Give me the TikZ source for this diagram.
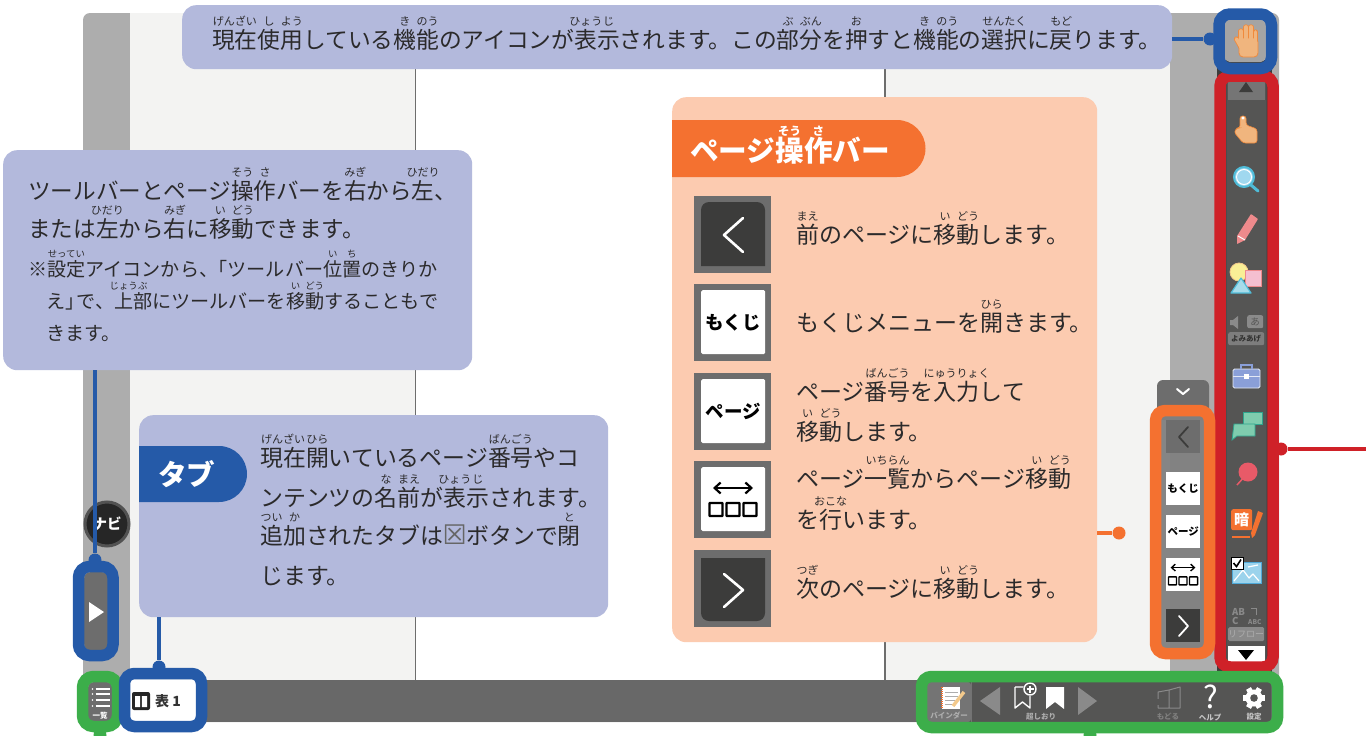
\documentclass[tikz,border=0pt]{standalone}
\usepackage{fontspec}
\setmainfont{Noto Sans CJK JP}
\newfontfamily\symfont{DejaVu Sans}
\usetikzlibrary{arrows.meta}
\definecolor{cBlue}{HTML}{255AA8}
\definecolor{cCall}{HTML}{B3B9DC}
\definecolor{cPanel}{HTML}{FCCBB0}
\definecolor{cOrange}{HTML}{F47130}
\definecolor{cRed}{HTML}{CF2128}
\definecolor{cGreen}{HTML}{3CAE4A}
\definecolor{cInk}{HTML}{2B2A2B}
\definecolor{cBand}{HTML}{ADADAD}
\definecolor{cPage}{HTML}{F3F3F2}
\definecolor{cBar}{HTML}{686868}
\definecolor{cTool}{HTML}{555554}
\definecolor{cDark}{HTML}{3C3C3B}
\definecolor{cBtn}{HTML}{6D6D6D}
\definecolor{cDim}{HTML}{8A8A8A}
\definecolor{F47130c}{HTML}{F08A3C}
\definecolor{F0B57Ec}{HTML}{F0B57E}
\definecolor{A0D8EFc}{HTML}{A0D8EF}
\definecolor{4FBCD8c}{HTML}{4FBCD8}
\definecolor{EE8A8Cc}{HTML}{EE8A8C}
\definecolor{F9EF96c}{HTML}{F9EF96}
\definecolor{F3C98Bc}{HTML}{F3C98B}
\definecolor{F5BFD0c}{HTML}{F5BFD0}
\definecolor{A8DCEAc}{HTML}{A8DCEA}
\definecolor{8A9FD8c}{HTML}{8A9FD8}
\definecolor{7FCCAEc}{HTML}{7FCCAE}
\definecolor{2FA58Ec}{HTML}{2FA58E}
\definecolor{E85A68c}{HTML}{E85A68}
\definecolor{9BD3ECc}{HTML}{9BD3EC}
\definecolor{4FA9D8c}{HTML}{4FA9D8}
\def\rbsize{11}
\def\rbraise{0.98em}
\newcommand\rb[2]{\leavevmode\setbox0\hbox{#1}\rlap{\raisebox{\rbraise}[0pt][0pt]{\makebox[\wd0]{\fontsize{\rbsize}{\rbsize}\selectfont #2}}}\box0 }
\newcommand\linetxt[4]{\node[txt,#1] at (#2,#3) {#4};}
\tikzset{
  txt/.style={anchor=base west,inner sep=0pt,text=cInk,font=\fontsize{22.6}{23}\selectfont},
  toptxt/.style={font=\fontsize{22.75}{23}\selectfont},
  tabtxt/.style={font=\fontsize{22.9}{23}\selectfont},
  paneltxt/.style={font=\fontsize{23}{23}\selectfont},
  smalltxt/.style={font=\fontsize{19.1}{19}\selectfont\def\rbsize{9.4}},
  callout/.style={anchor=north west,fill=cCall,rounded corners=14pt,inner sep=0pt},
  frame/.style={anchor=north west,draw=#1,line width=11.5pt,rounded corners=10pt,inner sep=0pt,outer sep=0pt},
  dotm/.style={circle,fill=#1,minimum size=13pt,inner sep=0pt},
  conn/.style={draw=#1,line width=3.4pt},
  tagl/.style={anchor=west,font=\bfseries\fontsize{28.6}{28}\selectfont,text=white,inner sep=0pt},
  btn/.style={anchor=north west,fill=cBtn,inner sep=0pt,minimum width=77pt,minimum height=77pt},
  whitein/.style={anchor=north west,fill=white,rounded corners=1.5pt,inner sep=0pt,minimum width=64pt,minimum height=64pt},
  keytxt/.style={font=\bfseries\fontsize{#1}{#1}\selectfont,text=black,inner sep=0pt},
  tinyl/.style={font=\bfseries\fontsize{7.5}{8}\selectfont,text=#1,inner sep=0pt},
  sbtn/.style={anchor=north west,inner sep=0pt,minimum width=34pt,minimum height=33pt,fill=#1},
}
\newcommand\threeboxes[3]{% x,y,scale (centre of icon)
 \begin{scope}[shift={(#1,#2)},x=#3pt,y=-#3pt]
  \draw[black,line width=#3*2.2pt,{Straight Barb[length=#3*6pt,width=#3*11pt]}-{Straight Barb[length=#3*6pt,width=#3*11pt]}] (-20,-12) -- (20,-12);
  \foreach \k in {-23.5,-6.5,10.5} \draw[black,line width=#3*2.2pt,rounded corners=.5pt] (\k,3) rectangle ++(13,13);
 \end{scope}}
\begin{document}
\begin{tikzpicture}[x=1pt,y=-1pt]
\useasboundingbox (0,0) rectangle (1366,736);
\fill[white] (0,0) rectangle (1366,736);
% ---- screen
\fill[cBand,rounded corners=7pt] (83,13) rectangle (1279,722);
\fill[cPage] (130,13) rectangle (1170,680);
\fill[white] (416,13) rectangle (885,680);
\draw[cBtn,line width=1.5pt] (415.5,13) -- (415.5,680) (885,13) -- (885,680);
\fill[cBar] (118,680) rectangle (1279,722);
\fill[cDark] (1217,60) rectangle (1272,672);
% ---- navi
\node[circle,fill=black!85,draw=black!68,line width=3pt,minimum size=44pt,inner sep=0pt] (navi) at (107,524) {};
\node[font=\bfseries\fontsize{14.5}{15}\selectfont,text=white,inner sep=0pt] (navitxt) at (107,524) {ナビ};
% ---- slider
\node[anchor=north west,fill=cBtn,rounded corners=6pt,minimum width=24pt,minimum height=78pt,inner sep=0pt] (slider) at (84,572) {};
\fill[white] (89,602) -- (104,612) -- (89,622) -- cycle;
% ---- callouts
\node[callout,minimum width=990pt,minimum height=64pt] (callTop) at (182,5) {};
\node[callout,minimum width=469pt,minimum height=220pt] (callLeft) at (3,150) {};
\node[callout,minimum width=469pt,minimum height=202pt] (callTab) at (139,415) {};
\node[anchor=north west,fill=cPanel,rounded corners=14pt,minimum width=425pt,minimum height=545pt,inner sep=0pt] (panel) at (672,97) {};
% tags
\fill[cOrange,rounded corners=0pt] (672,120) -- (897,120) arc[start angle=-90,end angle=90,x radius=28.5pt,y radius=-28.5pt] -- (672,177) -- cycle;
\fill[cBlue] (139,446) -- (219,446) arc[start angle=-90,end angle=90,x radius=28pt,y radius=-28pt] -- (139,502) -- cycle;
\node[tagl] (tagPage) at (690,151) {\def\rbsize{11.5}\def\rbraise{0.92em}ページ\rb{操}{そう}\rb{作}{さ}バー};
\node[tagl] (tagTab) at (158,474) {タブ};
% ---- top text
\linetxt{toptxt}{212}{48}{\rb{現在}{げんざい}\rb{使}{し}\rb{用}{よう}している\rb{機}{き}\rb{能}{のう}のアイコンが\rb{表}{ひょう}\rb{示}{じ}されます。この\rb{部}{ぶ}\rb{分}{ぶん}を\rb{押}{お}すと\rb{機}{き}\rb{能}{のう}の\rb{選択}{せんたく}に\rb{戻}{もど}ります。}
% ---- left text
\linetxt{}{28}{199}{ツールバーとページ\rb{操}{そう}\rb{作}{さ}バーを\rb{右}{みぎ}から\rb{左}{ひだり}、}
\linetxt{}{28}{237}{または\rb{左}{ひだり}から\rb{右}{みぎ}に\rb{移}{い}\rb{動}{どう}できます。}
\linetxt{smalltxt}{28}{276}{※\rb{設定}{せってい}アイコンから、\hspace{-.5em}「ツールバー\rb{位}{い}\rb{置}{ち}のきりか}
\linetxt{smalltxt}{46}{308}{え」\hspace{-.4em}で、\rb{上}{じょう}\rb{部}{ぶ}にツールバーを\rb{移}{い}\rb{動}{どう}することもで}
\linetxt{smalltxt}{46}{340}{きます。}
% ---- tab text
\linetxt{tabtxt}{260}{466}{\rb{現在}{げんざい}\rb{開}{ひら}いているページ\rb{番号}{ばんごう}やコ}
\linetxt{tabtxt}{260}{506}{ンテンツの\rb{名}{な}\rb{前}{まえ}が\rb{表}{ひょう}\rb{示}{じ}されます。}
\linetxt{tabtxt}{260}{544}{\rb{追}{つい}\rb{加}{か}されたタブは\makebox[1em]{\fontsize{27}{27}\textcolor{black!60}{\symfont ☒}}ボタンで\rb{閉}{と}}
\linetxt{tabtxt}{260}{584}{じます。}
% ---- panel buttons
\node[btn] (b1) at (694,196) {};
\fill[cDark] (701,266) -- (701,212) [rounded corners=8pt] -- (701,202) -- (765,202) [sharp corners] -- (765,266) -- cycle;
\draw[white,line width=2.6pt,line cap=round,line join=round] (743,218) -- (724,235) -- (743,252);
\node[btn] (b2) at (694,284) {};
\node[whitein] (k2) at (701,290) {};
\node[keytxt=18.5] at (k2) {もくじ};
\node[btn] (b3) at (694,373) {};
\node[whitein] (k3) at (701,379) {};
\node[keytxt=18.5] at (k3) {ページ};
\node[btn] (b4) at (694,461) {};
\node[whitein] (k4) at (701,467) {};
\threeboxes{733}{500}{1}
\node[btn] (b5) at (694,550) {};
\fill[cDark] (701,558) -- (765,558) -- (765,610) [rounded corners=8pt] -- (765,621) -- (701,621) [sharp corners] -- (701,610) -- cycle;
\draw[white,line width=2.6pt,line cap=round,line join=round] (724,574) -- (743,590) -- (724,607);
% ---- panel text
\linetxt{paneltxt}{796}{243}{\rb{前}{まえ}のページに\rb{移}{い}\rb{動}{どう}します。}
\linetxt{paneltxt}{796}{331}{もくじメニューを\rb{開}{ひら}きます。}
\linetxt{paneltxt}{796}{400}{ページ\rb{番号}{ばんごう}を\rb{入力}{にゅうりょく}して}
\linetxt{paneltxt}{796}{440}{\rb{移}{い}\rb{動}{どう}します。}
\linetxt{paneltxt}{796}{487}{ページ\rb{一覧}{いちらん}からページ\rb{移}{い}\rb{動}{どう}}
\linetxt{paneltxt}{796}{528}{を\rb{行}{おこな}います。}
\linetxt{paneltxt}{796}{597}{\rb{次}{つぎ}のページに\rb{移}{い}\rb{動}{どう}します。}
% ---- page bar
\fill[cBtn,rounded corners=6pt] (1157,380) rectangle (1209,420);
\draw[white,line width=2pt,line cap=round,line join=round] (1177,389) -- (1183,394) -- (1189,389);
\fill[black!50,opacity=.95] (1161,415) rectangle (1204,648);
\node[sbtn=cBtn] (s1) at (1166,420) {};
\draw[cDark,line width=1.8pt,line cap=round,line join=round] (1188,427) -- (1179,437) -- (1188,447);
\node[sbtn=white] (s2) at (1166,472) {};
\node[keytxt=10.5] at (s2) {もくじ};
\node[sbtn=white] (s3) at (1166,515) {};
\node[keytxt=10.5] at (s3) {ページ};
\node[sbtn=white] (s4) at (1166,558) {};
\threeboxes{1183}{575}{.62}
\node[sbtn=cDark] (s5) at (1166,609) {};
\draw[white,line width=1.8pt,line cap=round,line join=round] (1179,616) -- (1188,626) -- (1179,636);
% ---- toolbar
\fill[cTool] (1226,80) rectangle (1267,662);
\draw[black!70,line width=1pt] (1226.5,80) -- (1226.5,662) (1266.5,80) -- (1266.5,662);
\fill[cDim!85!black] (1228,80) rectangle (1265,100);
\fill[cDark] (1239,92) -- (1246,82) -- (1253,92) -- cycle;
\fill[white] (1228,646) rectangle (1265,662);
\fill[black] (1238,650) -- (1254,650) -- (1246,660) -- cycle;
% hand (current)
\node[anchor=north west,fill=cBand!95!black,rounded corners=5pt,minimum width=40pt,minimum height=42pt,inner sep=0pt] (curBtn) at (1225,20) {};
\begin{scope}[every path/.style={line cap=round}]
\foreach \xa/\ya in {1241/31,1246/27,1251/27,1255.5/32}{
  \draw[F47130c,line width=5.2pt] (\xa,\ya) -- (\xa,42);
  \draw[F0B57Ec,line width=3.6pt] (\xa,\ya) -- (\xa,42);}
\draw[F47130c,line width=5.2pt] (1236.5,39) -- (1241,47);
\fill[F0B57Ec,draw=F47130c,line width=.8pt,rounded corners=4pt] (1239,38) rectangle (1258,57);
\draw[F0B57Ec,line width=3.6pt] (1236.5,39) -- (1241,47);
\foreach \xa/\ya in {1241/34,1246/34,1251/34,1255.5/34}{\draw[F0B57Ec,line width=3.6pt] (\xa,\ya) -- (\xa,42);}
\end{scope}
% pointer hand
\fill[F0B57Ec,draw=F47130c,line width=.6pt,rounded corners=2.5pt] (1240,128) -- (1240,116) -- (1246,116) -- (1246,125) -- (1257,129) -- (1257,143) -- (1243,143) -- (1234,132) -- (1237,128) -- cycle;
\fill[white] (1243,118) circle[radius=1.6pt];
% magnifier
\draw[4FBCD8c,line width=3pt,line cap=round] (1251,185) -- (1258,191);
\draw[fill=A0D8EFc,draw=4FBCD8c,line width=2pt] (1244,177) circle[radius=10pt];
\draw[white,line width=1pt] (1244,177) circle[radius=7.5pt];
% pencil
\fill[EE8A8Cc,rounded corners=.5pt] (1251,214) -- (1258,219) -- (1245,240) -- (1237,244) -- (1237,236) -- cycle;
\draw[white,line width=1pt] (1238,236) -- (1245,240);
% shapes
\fill[F9EF96c,draw=F3C98Bc,line width=.8pt] (1239,272) circle[radius=9pt];
\fill[F5BFD0c,draw=EE8A8Cc,line width=1pt] (1245,270) rectangle (1261,286);
\fill[A8DCEAc,draw=4FBCD8c,line width=1.2pt,line join=round] (1241,278) -- (1251,293) -- (1231,293) -- cycle;
% speech
\fill[cDim] (1230,320) rectangle (1233,325) (1233,320) -- (1238,316) -- (1238,329) -- (1233,325) -- cycle;
\node[anchor=north west,fill=cDim,rounded corners=2pt,minimum width=16pt,minimum height=13pt,inner sep=0pt,font=\fontsize{9.5}{10}\selectfont,text=cTool] (aBox) at (1247,315) {あ};
\node[anchor=north west,fill=cDim!75!cTool,rounded corners=2pt,minimum width=36pt,minimum height=13pt,tinyl=cTool!60!black] (readTag) at (1228,332) {よみあげ};
% toolbox
\fill[8A9FD8c,draw=white!80!8A9FD8c,line width=.8pt,rounded corners=1.5pt] (1233,369) rectangle (1260,388);
\draw[8A9FD8c,line width=1.6pt] (1241,369) -- (1241,365) -- (1252,365) -- (1252,369);
\draw[white!75!8A9FD8c,line width=.8pt] (1233,376) -- (1260,376);
\fill[white] (1244,374) rectangle (1249,379);
% chat
\fill[7FCCAEc,draw=2FA58Ec,line width=.8pt] (1243,412) -- (1262,412) -- (1262,424) -- (1243,424) -- cycle;
\fill[7FCCAEc,draw=2FA58Ec,line width=.8pt] (1234,424) -- (1255,424) -- (1255,436) -- (1237,436) -- (1232,440) -- cycle;
% pin
\draw[E85A68c,line width=1.5pt] (1237,485) -- (1245,476);
\fill[E85A68c] (1248,472) circle[radius=9.5pt];
% memorize
\node[anchor=north west,fill=cOrange,rounded corners=2pt,minimum width=21pt,minimum height=21pt,inner sep=0pt,font=\bfseries\fontsize{15}{15}\selectfont,text=white] (memBox) at (1231,509) {暗};
\fill[cOrange] (1258,511) -- (1263,513) -- (1255,535) -- (1252,538) -- (1251,533) -- cycle;
\draw[cOrange,line width=2pt] (1232,537) -- (1250,537);
% check picture
\fill[9BD3ECc,draw=4FA9D8c,line width=1pt] (1232,562) rectangle (1261,583);
\draw[white,line width=1.2pt,line join=round] (1234,581) -- (1243,570) -- (1249,578) -- (1253,574) -- (1259,581);
\draw[white,line width=1.2pt] (1248,567) -- (1258,565);
\fill[white,draw=black,line width=.8pt] (1231,557) rectangle (1243,569);
\draw[black,line width=1.6pt] (1233.5,563) -- (1236.5,566.5) -- (1241,559.5);
% reflow
\node[anchor=west,inner sep=0pt,font=\bfseries\fontsize{9.5}{10}\selectfont,text=cDim] (rfA) at (1232,612) {AB};
\node[anchor=west,inner sep=0pt,font=\bfseries\fontsize{9.5}{10}\selectfont,text=cDim] (rfB) at (1232,621) {C};
\node[anchor=west,inner sep=0pt,font=\bfseries\fontsize{6.5}{7}\selectfont,text=cDim] (rfC) at (1248,622) {ABC};
\draw[cDim,line width=.8pt] (1251,608) -- (1256,608) -- (1256,615);
\node[anchor=north west,fill=cDim,rounded corners=1.5pt,minimum width=36pt,minimum height=14pt,inner sep=0pt,font=\fontsize{9}{9}\selectfont,text=cBand] (rfTag) at (1228,627) {リフロー};
% ---- bottom bar
\fill[cTool,rounded corners=3pt] (927,682) rectangle (1271,722);
\fill[cBtn!95!white,rounded corners=3pt] (927,682) rectangle (971,722);
\draw[black!55,line width=.8pt] (971,682) -- (971,722);
\fill[white] (942,687) rectangle (960,709);
\draw[cOrange,line width=1.6pt,dash pattern=on 1pt off 1pt] (942,687) -- (942,709);
\draw[cBand,line width=1pt] (945,692) -- (958,692) (945,696) -- (958,696) (945,700) -- (955,700) (945,704) -- (953,704);
\draw[F3C98Bc,line width=3.4pt] (964,692) -- (953,706);
\node[tinyl=cBand] (binder) at (949,716) {バインダー};
\fill[cDim] (1000,687) -- (1000,715) -- (980,701) -- cycle;
\fill[cDim] (1078,687) -- (1078,715) -- (1097,701) -- cycle;
\draw[white,line width=1.4pt,line join=round] (1015,687) -- (1026,687) (1030,695) -- (1030,708) -- (1022.5,702) -- (1015,708) -- (1015,687);
\fill[cTool] (1030,689) circle[radius=7pt];
\draw[white,line width=1.4pt] (1030,689) circle[radius=6pt];
\draw[white,line width=1.3pt] (1026.5,689) -- (1033.5,689) (1030,685.5) -- (1030,692.5);
\fill[white] (1046,687) -- (1064,687) -- (1064,709) -- (1055,702) -- (1046,709) -- cycle;
\node[tinyl=cBand] (shiori) at (1041,717) {超しおり};
\draw[cDim,line width=1pt,line join=round] (1169,690) -- (1158,692) -- (1158,708) -- (1169,708) -- (1180,708) -- (1180,687) -- (1169,690) -- (1169,708);
\fill[cTool] (1156,699) rectangle (1162,705);
\node[tinyl=cDim!80!cTool] (back) at (1168,717) {もどる};
\node[inner sep=0pt,font=\fontsize{31}{31}\selectfont,text=white] (helpq) at (1210.5,697) {?};
\node[tinyl=cBand!70!white] (help) at (1210,717) {ヘルプ};
\foreach \a in {0,60,...,300}{\draw[white,line width=5.5pt] (1254,698) -- +(\a:11);}
\fill[white] (1254,698) circle[radius=8.5pt];
\fill[cTool] (1254,698) circle[radius=3.8pt];
\node[tinyl=cBand!70!white] (setting) at (1254,717) {設定};
% list button
\node[anchor=north west,fill=cBtn,rounded corners=5pt,minimum width=24pt,minimum height=40pt,inner sep=0pt] (listBtn) at (88,682) {};
\foreach \yy in {689,694,700,706}{\draw[white,line width=1.2pt] (95.5,\yy) -- (109.5,\yy); \fill[white] (92.5,\yy) circle[radius=.9pt];}
\node[tinyl=white] (listLab) at (100,716) {一覧};
% tab
\node[anchor=north west,fill=white,minimum width=66pt,minimum height=41pt,inner sep=0pt] (tabBtn) at (130,680) {};
\fill[black!85,rounded corners=2pt] (132,692) rectangle (150,710);
\fill[white] (135,696) rectangle (140.2,707) (141.8,696) rectangle (147,707);
\node[anchor=base west,inner sep=0pt,font=\bfseries\fontsize{14}{14}\selectfont,text=black!80] (tabLab) at (155,706) {表 1};
% ---- frames (centre line of the thick strokes)
\node[frame=cRed,minimum width=53pt,minimum height=591pt] (frRed) at (1220,76) {};
\node[frame=cBlue,rounded corners=11pt,minimum width=52.5pt,minimum height=54.5pt] (frHand) at (1219,14) {};
\node[frame=cOrange,minimum width=54pt,minimum height=243pt] (frPage) at (1155.5,410.5) {};
\node[frame=cGreen,minimum width=356pt,minimum height=51pt] (frTools) at (921.5,676.5) {};
\node[frame=cGreen,rounded corners=11pt,minimum width=35pt,minimum height=50pt] (frList) at (82.5,676.5) {};
\node[frame=cBlue,minimum width=77pt,minimum height=53pt] (frTab) at (124.5,673.5) {};
\node[frame=cBlue,rounded corners=11pt,minimum width=34.5pt,minimum height=89pt] (frSlider) at (78.5,566.5) {};
% ---- connectors
\node[dotm=cBlue] (dHand) at (1210,39) {};
\draw[conn=cBlue] (dHand) -- (dHand -| callTop.east);
\node[dotm=cRed] (dRed) at (1281,449) {};
\coordinate (rEnd) at (1366,449);
\draw[conn=cRed] (dRed) -- (rEnd);
\node[dotm=cOrange] (dOr) at (1119,533) {};
\draw[conn=cOrange] (dOr) -- (dOr -| panel.east);
\node[dotm=cBlue] (dSl) at (95,560) {};
\draw[conn=cBlue] (dSl) -- (dSl |- callLeft.south);
\node[dotm=cBlue] (dTab) at (159,667) {};
\draw[conn=cBlue] (dTab) -- (dTab |- callTab.south);
\node[dotm=cGreen] (dList) at (100,735) {};
\node[dotm=cGreen] (dTools) at (1090,735) {};
\end{tikzpicture}
\end{document}
